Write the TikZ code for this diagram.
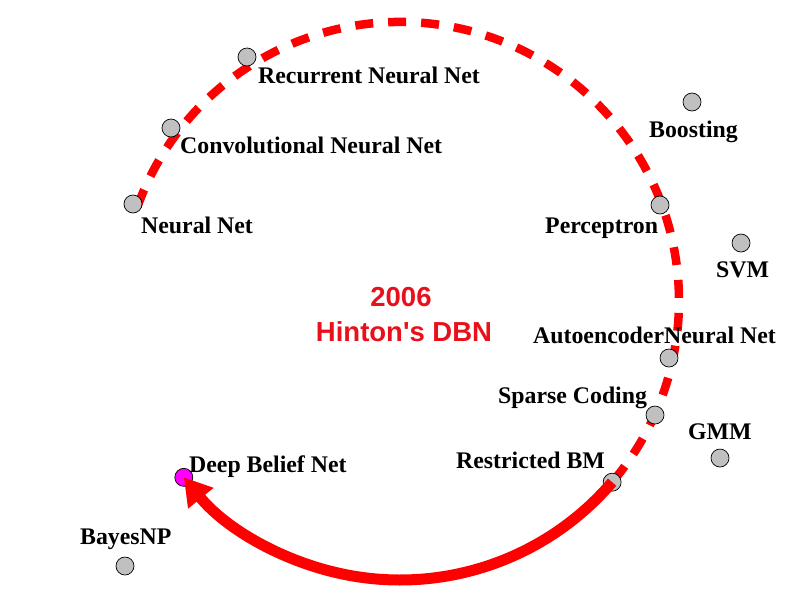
\documentclass[tikz,border=0pt]{standalone}
\usepackage{fontspec}
\setmainfont{Liberation Serif}
\newfontfamily\arialfont{Liberation Sans}
\usetikzlibrary{arrows.meta,calc}
\definecolor{dotgray}{HTML}{C0C0C0}
\definecolor{linered}{HTML}{FF0000}
\definecolor{dotmag}{HTML}{FF00FF}
\definecolor{textred}{HTML}{E8101A}
\begin{document}
\begin{tikzpicture}[x=1pt,y=-1pt,
  dot/.style={circle,draw=black,line width=0.7pt,fill=dotgray,minimum size=18pt,inner sep=0pt},
  magdot/.style={dot,fill=dotmag},
  lbl/.style={font=\fontsize{23.8}{26}\selectfont\bfseries,inner sep=0pt,anchor=base west},
  redlbl/.style={font=\arialfont\fontsize{27.5}{30}\selectfont\bfseries,text=textred,inner sep=0pt,anchor=base},
  dasharc/.style={draw=linered,line width=8.5pt,dash pattern=on 18pt off 15pt},
  bigarrow/.style={draw=linered,line width=11pt,-{Triangle[length=27pt,width=31pt]}}
]
\path[use as bounding box] (0,0) rectangle (794,595);
\coordinate (c) at (400,301);

% dashed arc
\draw[dasharc] ($(c)+(199.8:279)$) arc[start angle=199.8,end angle=400.5,radius=279];

% dots
\node[dot] (rnn) at (247,57) {};
\node[dot] (cnn) at (171,128) {};
\node[dot] (nn) at (133,204) {};
\node[dot] (boost) at (692,102) {};
\node[dot] (perc) at (660,205) {};
\node[dot] (svm) at (741,243) {};
\node[dot] (auto) at (669,358) {};
\node[dot] (sparse) at (655,415) {};
\node[dot] (gmm) at (720,458) {};
\node[dot] (rbm) at ($(c)+(40.5:279)$) {};
\node[magdot] (dbn) at ($(c)+(140.8:279)$) {};
\node[dot] (bayes) at (125,566) {};

% arrow
\draw[bigarrow] (rbm.center) arc[start angle=40.5,end angle=140.8,radius=279];

% labels
\node[lbl] (trnn) at (258,83) {Recurrent Neural Net};
\node[lbl] (tcnn) at (180,153) {Convolutional Neural Net};
\node[lbl] (tnn) at (141,233) {Neural Net};
\node[lbl] (tboost) at (649,137) {Boosting};
\node[lbl] (tperc) at (545,233) {Perceptron};
\node[lbl] (tsvm) at (716,277) {SVM};
\node[lbl] (tauto) at (533,343) {AutoencoderNeural Net};
\node[lbl] (tsparse) at (498,403) {Sparse Coding};
\node[lbl] (tgmm) at (688,439) {GMM};
\node[lbl] (trbm) at (456,468) {Restricted BM};
\node[lbl] (tdbn) at (189,472) {Deep Belief Net};
\node[lbl] (tbayes) at (80,544) {BayesNP};
\node[redlbl] (tyear) at (401,306) {2006};
\node[redlbl] (thinton) at (404,341) {Hinton's DBN};
\end{tikzpicture}
\end{document}
